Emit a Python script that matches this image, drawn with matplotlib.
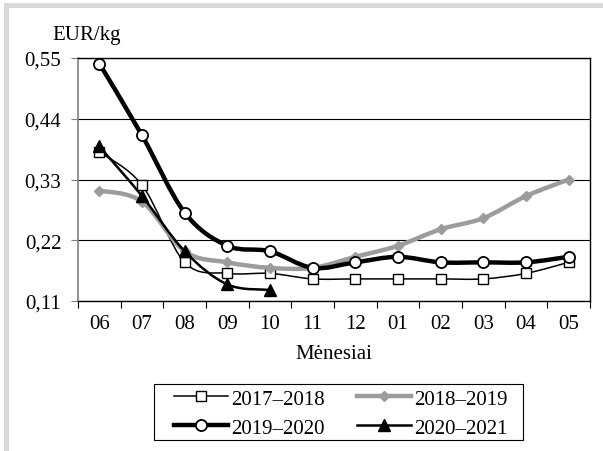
import matplotlib
matplotlib.use('Agg')
import matplotlib.pyplot as plt
from matplotlib.path import Path
from matplotlib.patches import PathPatch, Rectangle
from matplotlib.lines import Line2D
import numpy as np

plt.rcParams['font.family'] = ['Liberation Serif', 'DejaVu Serif']

months = ['06', '07', '08', '09', '10', '11', '12', '01', '02', '03', '04', '05']
s2017 = [0.38, 0.32, 0.18, 0.16, 0.16, 0.15, 0.15, 0.15, 0.15, 0.15, 0.16, 0.18]
s2018 = [0.31, 0.29, 0.20, 0.18, 0.17, 0.17, 0.19, 0.21, 0.24, 0.26, 0.30, 0.33]
s2019 = [0.54, 0.41, 0.27, 0.21, 0.20, 0.17, 0.18, 0.19, 0.18, 0.18, 0.18, 0.19]
s2020 = [0.39, 0.30, 0.20, 0.14, 0.13]
series_labels = ['2017–2018', '2018–2019', '2019–2020', '2020–2021']
yticks = [0.11, 0.22, 0.33, 0.44, 0.55]
ytick_labels = ['0,11', '0,22', '0,33', '0,44', '0,55']

FS = 15


def smooth_path(xs, ys):
    pts = np.column_stack([xs, ys]).astype(float)
    n = len(pts)
    verts = [pts[0]]
    codes = [Path.MOVETO]
    for i in range(n - 1):
        p0 = pts[i - 1] if i > 0 else pts[i]
        p1 = pts[i]
        p2 = pts[i + 1]
        p3 = pts[i + 2] if i + 2 < n else pts[i + 1]
        c1 = p1 + (p2 - p0) / 6.0
        c2 = p2 - (p3 - p1) / 6.0
        verts += [c1, c2, p2]
        codes += [Path.CURVE4] * 3
    return Path(verts, codes)


W, H = 603, 452
fig = plt.figure(figsize=(W / 100, H / 100), dpi=100)
fig.patch.set_facecolor('white')

# light grey frame strips at top and left
fig.patches.append(Rectangle((4 / W, 1 - 9 / H), (W - 4) / W, 5 / H, transform=fig.transFigure,
                             facecolor='#d9d9d9', edgecolor='none', zorder=0))
fig.patches.append(Rectangle((4 / W, 0), 5 / W, 1 - 4 / H, transform=fig.transFigure,
                             facecolor='#d9d9d9', edgecolor='none', zorder=0))

ax = fig.add_axes([78 / W, 1 - 302 / H, (590 - 78) / W, (302 - 59) / H])

styles = [
    dict(data=s2017, color='black', lw=1.1, marker='s', ms=7.5, mfc='white', mec='black', mew=1.0),
    dict(data=s2018, color='#9c9c9c', lw=3.2, marker='D', ms=5.5, mfc='#9c9c9c', mec='#9c9c9c', mew=1.0),
    dict(data=s2019, color='black', lw=3.2, marker='o', ms=8, mfc='white', mec='black', mew=1.3),
    dict(data=s2020, color='black', lw=1.8, marker='^', ms=8, mfc='black', mec='black', mew=1.0),
]

handles = []
for k, st in enumerate(styles):
    ys = st['data']
    xs = np.arange(len(ys))
    patch = PathPatch(smooth_path(xs, ys), fill=False, edgecolor=st['color'], lw=st['lw'],
                      capstyle='round', joinstyle='round', zorder=3 + 2 * k)
    ax.add_patch(patch)
    ax.plot(xs, ys, linestyle='none', marker=st['marker'], ms=st['ms'], mfc=st['mfc'],
            mec=st['mec'], mew=st['mew'], zorder=4 + 2 * k)
    handles.append(Line2D([], [], color=st['color'], lw=st['lw'], marker=st['marker'], ms=st['ms'],
                          mfc=st['mfc'], mec=st['mec'], mew=st['mew']))

ax.set_xlim(-0.5, len(months) - 0.5)
ax.set_ylim(yticks[0], yticks[-1])
ax.set_yticks(yticks)
ax.set_yticklabels(ytick_labels, fontsize=FS)
ax.set_xticks(np.arange(len(months) + 1) - 0.5)
ax.set_xticklabels([])
ax.set_xticks(np.arange(len(months)), minor=True)
ax.set_xticklabels(months, minor=True, fontsize=FS)
ax.tick_params(axis='x', which='major', direction='out', length=5, width=0.8, color='black')
ax.tick_params(axis='x', which='minor', length=0, pad=9.5)
ax.tick_params(axis='y', direction='out', length=5, width=0.8, color='#808080', pad=7)

ax.yaxis.grid(True, color='black', lw=0.8)
ax.set_axisbelow(True)
for side in ['top', 'right', 'bottom']:
    ax.spines[side].set_color('black')
    ax.spines[side].set_linewidth(1.0)
ax.spines['left'].set_color('#808080')
ax.spines['left'].set_linewidth(1.2)

ax.set_xlabel('Mėnesiai', fontsize=FS, labelpad=8)
fig.text(52 / W, 1 - 40 / H, 'EUR/kg', fontsize=FS, ha='left', va='baseline')

# legend box frame
fig.patches.append(Rectangle((154 / W, 1 - 441 / H), (523 - 154) / W, (441 - 385) / H,
                             transform=fig.transFigure, facecolor='white', edgecolor='black',
                             lw=0.8, zorder=1))

order = [0, 2, 1, 3]
leg = fig.legend([handles[i] for i in order], [series_labels[i] for i in order],
                 loc='upper left', bbox_to_anchor=(174 / W, 1 - 390 / H), ncol=2,
                 fontsize=FS, frameon=False,
                 handlelength=2.6, handletextpad=0.15, columnspacing=1.55,
                 labelspacing=0.45, borderpad=0, borderaxespad=0)
leg.set_zorder(2)

fig.savefig('out.png', dpi=100)
